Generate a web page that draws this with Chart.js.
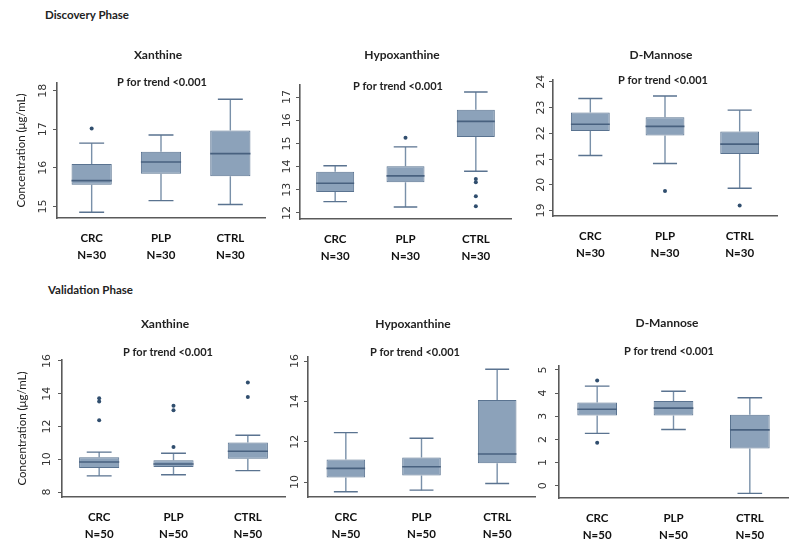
<!DOCTYPE html>
<html>
<head>
<title>Box plots</title>
<script src="https://cdn.jsdelivr.net/npm/chart.js"></script>
<style>
body { margin: 0; background: #fff; width: 800px; height: 548px; position: relative; overflow: hidden; }
canvas { position: absolute; }
.phase { position: absolute; font: bold 11.5px Lato, sans-serif; color: #222; }
</style>
</head>
<body>
<div class="phase" style="left:45px;top:8px">Discovery Phase</div>
<div class="phase" style="left:48px;top:283px">Validation Phase</div>
<canvas id="p1"></canvas>
<canvas id="p2"></canvas>
<canvas id="p3"></canvas>
<canvas id="p4"></canvas>
<canvas id="p5"></canvas>
<canvas id="p6"></canvas>
<script>
// groups and sample sizes
var groups = ['CRC', 'PLP', 'CTRL'];
var discN = ['N=30', 'N=30', 'N=30'];
var valN = ['N=50', 'N=50', 'N=50'];
var trendText = 'P for trend <0.001';

// each row: [lower whisker, Q1, median, Q3, upper whisker]
var discXanthine = [[14.85, 15.56, 15.67, 16.10, 16.64], [15.15, 15.85, 16.15, 16.42, 16.85], [15.05, 15.78, 16.37, 16.97, 17.78]];
var discXanthineOut = [[17.02], [], []];
var discHypo = [[12.49, 12.90, 13.28, 13.78, 14.04], [12.26, 13.33, 13.60, 14.02, 14.85], [13.80, 15.28, 15.95, 16.45, 17.22]];
var discHypoOut = [[], [15.25], [13.47, 13.33, 12.72, 12.29]];
var discMannose = [[21.14, 22.09, 22.35, 22.81, 23.35], [20.83, 21.92, 22.27, 22.62, 23.45], [19.87, 21.20, 21.58, 22.07, 22.90]];
var discMannoseOut = [[], [19.76], [19.20]];

var valXanthine = [[8.99, 9.47, 9.84, 10.12, 10.44], [9.06, 9.53, 9.71, 9.94, 10.37], [9.31, 10.04, 10.49, 11.02, 11.47]];
var valXanthineOut = [[13.72, 13.52, 12.38], [13.27, 12.99, 10.75], [14.69, 13.80]];
var valHypo = [[9.52, 10.23, 10.68, 11.12, 12.45], [9.60, 10.33, 10.76, 11.22, 12.17], [9.93, 10.93, 11.39, 14.07, 15.59]];
var valHypoOut = [[], [], []];
var valMannose = [[2.26, 3.03, 3.30, 3.59, 4.30], [2.43, 3.03, 3.35, 3.66, 4.08], [-0.33, 1.61, 2.41, 3.06, 3.80]];
var valMannoseOut = [[4.54, 1.86], [], []];

// y axis: [min, max, tick step]
var discXanthineAxis = [14.7, 18.2, 1];
var discHypoAxis = [11.74, 17.52, 1];
var discMannoseAxis = [18.79, 24.07, 1];
var valXanthineAxis = [7.7, 16.06, 2];
var valHypoAxis = [9.26, 16.2, 2];
var valMannoseAxis = [-0.53, 5.17, 1];

var boxFill = '#8ca2ba';
var boxEdge = '#5a7390';
var medianColor = '#48617f';
var whiskerColor = '#7990a9';
var dotColor = '#304e6e';
var axisColor = '#5a5a5a';

var boxExtras = {
    id: 'boxExtras',
    afterDatasetsDraw: function(chart, args, opts) {
        var ctx = chart.ctx;
        var y = chart.scales.y;
        var meta = chart.getDatasetMeta(0);
        ctx.save();
        meta.data.forEach(function(bar, i) {
            var s = opts.stats[i];
            var cx = bar.x, hw = bar.width / 2, cap = hw * 0.62;
            ctx.strokeStyle = whiskerColor;
            ctx.lineWidth = 1.4;
            ctx.beginPath();
            ctx.moveTo(cx, y.getPixelForValue(s[3]));
            ctx.lineTo(cx, y.getPixelForValue(s[4]));
            ctx.moveTo(cx, y.getPixelForValue(s[1]));
            ctx.lineTo(cx, y.getPixelForValue(s[0]));
            ctx.stroke();
            ctx.strokeStyle = boxEdge;
            ctx.beginPath();
            ctx.moveTo(cx - cap, y.getPixelForValue(s[4]));
            ctx.lineTo(cx + cap, y.getPixelForValue(s[4]));
            ctx.moveTo(cx - cap, y.getPixelForValue(s[0]));
            ctx.lineTo(cx + cap, y.getPixelForValue(s[0]));
            ctx.stroke();
            ctx.strokeStyle = medianColor;
            ctx.lineWidth = 1.6;
            ctx.beginPath();
            ctx.moveTo(cx - hw, y.getPixelForValue(s[2]));
            ctx.lineTo(cx + hw, y.getPixelForValue(s[2]));
            ctx.stroke();
        });
        ctx.restore();
    },
    afterDraw: function(chart, args, opts) {
        var ctx = chart.ctx;
        ctx.save();
        ctx.fillStyle = '#222';
        ctx.textAlign = 'center';
        ctx.textBaseline = 'middle';
        ctx.font = 'bold 12px Lato, sans-serif';
        ctx.fillText(opts.title, opts.titleX, opts.titleY);
        ctx.font = 'bold 11px Lato, sans-serif';
        ctx.fillText(trendText, opts.subX, opts.subY);
        ctx.restore();
    }
};

function drawPanel(id, p) {
    var canvas = document.getElementById(id);
    canvas.width = p.w;
    canvas.height = p.h;
    canvas.style.left = p.left + 'px';
    canvas.style.top = p.top + 'px';

    var labels = groups.map(function(g, i) { return [g, p.n[i]]; });
    var outliers = [];
    p.out.forEach(function(list, i) {
        list.forEach(function(v) { outliers.push({ x: labels[i], y: v }); });
    });
    var xH = 50;

    new Chart(canvas.getContext('2d'), {
        type: 'bar',
        data: {
            labels: labels,
            datasets: [{
                data: p.stats.map(function(s) { return [s[1], s[3]]; }),
                backgroundColor: boxFill,
                borderColor: boxEdge,
                borderWidth: 1,
                borderSkipped: false,
                barPercentage: p.barPct,
                categoryPercentage: 1
            }, {
                type: 'scatter',
                data: outliers,
                pointRadius: 2,
                pointBackgroundColor: dotColor,
                pointBorderWidth: 0
            }]
        },
        options: {
            responsive: false,
            animation: false,
            layout: {
                padding: { left: p.l - p.yW, top: p.t, right: p.w - p.r, bottom: p.h - p.b - xH }
            },
            plugins: {
                legend: { display: false },
                tooltip: { enabled: false },
                boxExtras: {
                    stats: p.stats, title: p.title,
                    titleX: p.titleX, titleY: p.titleY, subX: p.subX, subY: p.subY
                }
            },
            scales: {
                x: {
                    type: 'category',
                    offset: true,
                    grid: { display: false, drawTicks: false },
                    border: { display: true, color: axisColor, width: 1.6 },
                    ticks: {
                        color: '#111',
                        padding: 12,
                        font: { family: 'Lato', weight: 'bold', size: 11.5, lineHeight: '17px' }
                    },
                    afterFit: function(s) { s.height = xH; }
                },
                y: {
                    min: p.axis[0],
                    max: p.axis[1],
                    grid: { display: true, drawOnChartArea: false, drawTicks: true, tickLength: 4, color: axisColor },
                    border: { display: true, color: axisColor, width: 1.6 },
                    ticks: {
                        stepSize: p.axis[2],
                        includeBounds: false,
                        minRotation: 90,
                        maxRotation: 90,
                        crossAlign: 'center',
                        padding: p.tickPad,
                        color: '#333',
                        font: { family: 'DejaVu Sans', size: 11 }
                    },
                    title: {
                        display: p.yTitle,
                        text: 'Concentration (\u03bcg/mL)',
                        color: '#222',
                        padding: { top: p.titlePad, bottom: 0 },
                        font: { family: 'Lato', size: 11.5 }
                    },
                    afterFit: function(s) { s.width = p.yW; }
                }
            }
        },
        plugins: [boxExtras]
    });
}

drawPanel('p1', { left: 0, top: 0, w: 270, h: 280, l: 57, t: 83, r: 265, b: 218, yW: 57, tickPad: 3, yTitle: true, titlePad: 14,
    stats: discXanthine, out: discXanthineOut, axis: discXanthineAxis, n: discN, barPct: 0.58,
    title: 'Xanthine', titleX: 158, titleY: 55, subX: 162, subY: 82 });
drawPanel('p2', { left: 265, top: 0, w: 270, h: 280, l: 35, t: 85, r: 246, b: 219, yW: 35, tickPad: 2, yTitle: false, titlePad: 0,
    stats: discHypo, out: discHypoOut, axis: discHypoAxis, n: discN, barPct: 0.54,
    title: 'Hypoxanthine', titleX: 137, titleY: 55, subX: 133, subY: 86 });
drawPanel('p3', { left: 530, top: 0, w: 270, h: 280, l: 23, t: 80, r: 247, b: 216, yW: 23, tickPad: 1, yTitle: false, titlePad: 0,
    stats: discMannose, out: discMannoseOut, axis: discMannoseAxis, n: discN, barPct: 0.52,
    title: 'D-Mannose', titleX: 131, titleY: 55, subX: 133, subY: 80 });
drawPanel('p4', { left: 0, top: 280, w: 290, h: 268, l: 62, t: 80, r: 285, b: 217, yW: 62, tickPad: 4, yTitle: true, titlePad: 15,
    stats: valXanthine, out: valXanthineOut, axis: valXanthineAxis, n: valN, barPct: 0.54,
    title: 'Xanthine', titleX: 165, titleY: 44, subX: 168, subY: 72 });
drawPanel('p5', { left: 270, top: 280, w: 270, h: 268, l: 38, t: 77, r: 265, b: 217, yW: 38, tickPad: 2, yTitle: false, titlePad: 0,
    stats: valHypo, out: valHypoOut, axis: valHypoAxis, n: valN, barPct: 0.51,
    title: 'Hypoxanthine', titleX: 143, titleY: 44, subX: 145, subY: 72 });
drawPanel('p6', { left: 530, top: 280, w: 270, h: 268, l: 29, t: 86, r: 258, b: 218, yW: 29, tickPad: 8, yTitle: false, titlePad: 0,
    stats: valMannose, out: valMannoseOut, axis: valMannoseAxis, n: valN, barPct: 0.52,
    title: 'D-Mannose', titleX: 137, titleY: 43, subX: 139, subY: 71 });
</script>
</body>
</html>
